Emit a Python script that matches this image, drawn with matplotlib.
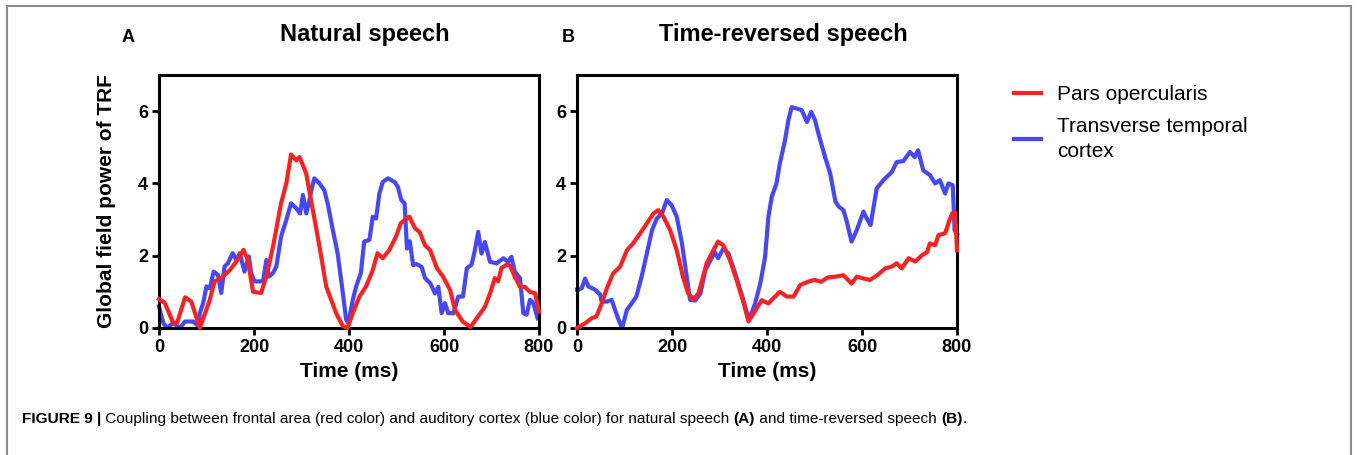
"""
Figure 9: coupling between frontal area and auditory cortex (TRF global field power).
Two panels (natural vs time-reversed speech) plus a side legend and caption.
"""

import matplotlib
matplotlib.use("Agg")
import matplotlib.pyplot as plt
from matplotlib.patches import Rectangle

plt.rcParams["font.family"] = ["Liberation Sans", "DejaVu Sans"]

# ---- data ----
# Panel A: natural speech
a_red_t = [0, 12, 30, 38, 55, 68, 86, 107, 117, 131, 149, 163, 178, 187, 198, 215, 226, 240,
           257, 268, 278, 289, 296, 310, 320, 338, 352, 373, 387, 397, 408, 422, 436, 450, 460,
           471, 485, 499, 509, 527, 539, 549, 560, 571, 585, 598, 613, 623, 640, 656, 669, 686,
           697, 707, 714, 721, 732, 739, 749, 760, 770, 781, 792, 800]
a_red_v = [0.8, 0.7, 0.14, 0.14, 0.85, 0.73, 0.0, 0.78, 1.29, 1.38, 1.6, 1.84, 2.16, 1.88, 1.0,
           0.97, 1.42, 2.25, 3.45, 4.0, 4.8, 4.64, 4.73, 4.27, 3.54, 2.25, 1.15, 0.41, 0.05, 0.0,
           0.41, 0.87, 1.15, 1.6, 2.07, 1.93, 2.16, 2.53, 2.9, 3.08, 2.76, 2.65, 2.29, 2.15, 1.66,
           1.42, 1.05, 0.5, 0.17, 0.03, 0.27, 0.58, 0.96, 1.38, 1.29, 1.66, 1.75, 1.73, 1.42, 1.14,
           1.14, 1.0, 0.96, 0.45]

a_blue_t = [0, 9, 17, 30, 44, 55, 72, 83, 86, 93, 100, 107, 115, 124, 131, 138, 145, 155, 163,
            170, 180, 189, 194, 201, 219, 226, 231, 240, 247, 257, 268, 278, 289, 297, 303, 310,
            317, 320, 327, 338, 348, 355, 366, 376, 387, 394, 399, 408, 415, 425, 432, 443, 450,
            457, 464, 471, 482, 496, 503, 510, 517, 522, 528, 535, 542, 553, 560, 571, 581, 588,
            595, 602, 609, 620, 630, 640, 648, 658, 665, 672, 679, 686, 697, 711, 725, 735, 742,
            749, 760, 767, 774, 781, 788, 797]
a_blue_v = [0.6, 0.14, 0.0, 0.14, 0.0, 0.18, 0.18, 0.05, 0.41, 0.69, 1.15, 1.1, 1.56, 1.47, 0.97,
            1.7, 1.79, 2.07, 1.88, 2.07, 1.56, 1.98, 1.52, 1.29, 1.29, 1.88, 1.42, 1.52, 1.7, 2.53,
            2.99, 3.45, 3.31, 3.17, 3.68, 3.17, 3.54, 3.77, 4.14, 4.0, 3.81, 3.45, 2.71, 2.07, 0.97,
            0.23, 0.14, 0.78, 1.15, 1.52, 2.39, 2.44, 3.08, 3.03, 3.72, 4.04, 4.14, 4.04, 3.9, 3.54,
            3.45, 2.2, 2.4, 1.74, 1.77, 1.69, 1.38, 1.24, 0.96, 1.14, 0.41, 0.69, 0.41, 0.41, 0.87,
            0.87, 1.65, 1.75, 2.15, 2.66, 2.06, 2.38, 1.83, 1.79, 1.93, 1.83, 1.97, 1.56, 1.38,
            0.41, 0.37, 0.78, 0.69, 0.27]

# Panel B: time-reversed speech
b_red_t = [0, 3, 17, 31, 41, 52, 63, 76, 91, 105, 118, 132, 147, 161, 171, 182, 196, 210, 223,
           234, 245, 256, 273, 287, 297, 308, 322, 336, 351, 361, 372, 389, 403, 413, 427, 442,
           456, 470, 486, 500, 514, 528, 544, 561, 578, 589, 603, 617, 632, 649, 663, 673, 684,
           698, 712, 727, 737, 743, 754, 761, 775, 783, 790, 796, 800]
b_red_v = [0.0, 0.02, 0.13, 0.27, 0.32, 0.68, 1.1, 1.51, 1.7, 2.15, 2.34, 2.6, 2.89, 3.17, 3.26,
           3.08, 2.71, 2.15, 1.42, 0.96, 0.8, 0.96, 1.79, 2.15, 2.39, 2.29, 1.88, 1.33, 0.68, 0.18,
           0.41, 0.77, 0.68, 0.82, 1.0, 0.87, 0.87, 1.19, 1.28, 1.33, 1.28, 1.4, 1.42, 1.46, 1.23,
           1.42, 1.37, 1.33, 1.46, 1.65, 1.7, 1.79, 1.65, 1.93, 1.84, 2.02, 2.1, 2.34, 2.29, 2.57,
           2.62, 2.94, 3.17, 3.2, 2.15]

b_blue_t = [0, 3, 10, 17, 24, 38, 49, 52, 63, 73, 80, 89, 95, 105, 115, 125, 136, 147, 158, 168,
            179, 189, 199, 210, 221, 231, 238, 249, 260, 270, 290, 297, 308, 319, 333, 348, 358,
            365, 375, 386, 396, 403, 410, 420, 427, 438, 445, 452, 463, 473, 484, 493, 501, 511,
            522, 533, 544, 551, 561, 568, 578, 589, 603, 610, 618, 631, 645, 663, 673, 687, 701,
            711, 718, 729, 743, 754, 764, 775, 782, 791, 795, 800]
b_blue_v = [1.06, 1.06, 1.1, 1.37, 1.15, 1.06, 0.92, 0.73, 0.73, 0.78, 0.5, 0.18, 0.0, 0.5, 0.68,
            0.87, 1.42, 2.06, 2.71, 3.03, 3.17, 3.54, 3.4, 3.08, 2.34, 1.42, 0.78, 0.76, 0.96, 1.6,
            2.1, 1.93, 2.2, 2.06, 1.51, 0.87, 0.41, 0.32, 0.68, 1.24, 1.97, 3.08, 3.63, 4.0, 4.55,
            5.2, 5.75, 6.11, 6.07, 6.03, 5.7, 5.98, 5.75, 5.25, 4.74, 4.28, 3.5, 3.36, 3.26, 2.94,
            2.39, 2.71, 3.22, 3.03, 2.85, 3.86, 4.09, 4.32, 4.59, 4.62, 4.87, 4.73, 4.92, 4.36,
            4.23, 4.0, 4.09, 3.72, 4.0, 3.95, 2.7, 2.6]

series_labels = ["Pars opercularis", "Transverse temporal\ncortex"]
panel_titles = ["Natural speech", "Time-reversed speech"]
panel_letters = ["A", "B"]
x_ticks = [0, 200, 400, 600, 800]
y_ticks = [0, 2, 4, 6]

RED = "#f52424"
BLUE = "#3434f0"

W, H = 1358, 455


def fx(px):
    return px / W


def fy(py):
    return 1 - py / H


def style_axes(ax):
    ax.set_xlim(0, 800)
    ax.set_ylim(0, 7)
    ax.set_xticks(x_ticks)
    ax.set_yticks(y_ticks)
    for s in ax.spines.values():
        s.set_linewidth(2.2)
    ax.tick_params(direction="out", length=5, width=2, labelsize=13, pad=3)
    for lab in ax.get_xticklabels() + ax.get_yticklabels():
        lab.set_fontweight("bold")
    ax.set_xlabel("Time (ms)", fontsize=15, fontweight="bold", labelpad=4)


fig = plt.figure(figsize=(W / 100, H / 100), dpi=100)

ax_a = fig.add_axes([fx(159), fy(328), fx(380), 253 / H])
ax_b = fig.add_axes([fx(577), fy(328), fx(380), 253 / H])

la, = ax_a.plot(a_red_t, a_red_v, color=RED, lw=3, clip_on=False, zorder=3)
lb, = ax_a.plot(a_blue_t, a_blue_v, color=BLUE, lw=3, clip_on=False, zorder=2, alpha=0.9)
ax_b.plot(b_red_t, b_red_v, color=RED, lw=3, clip_on=False, zorder=3)
ax_b.plot(b_blue_t, b_blue_v, color=BLUE, lw=3, clip_on=False, zorder=2, alpha=0.9)

for ax in (ax_a, ax_b):
    style_axes(ax)
ax_a.set_ylabel("Global field power of TRF", fontsize=15, fontweight="bold", labelpad=16)

# titles and panel letters
fig.text(fx(365), fy(34), panel_titles[0], fontsize=17, fontweight="bold", ha="center", va="center")
fig.text(fx(783), fy(34), panel_titles[1], fontsize=17, fontweight="bold", ha="center", va="center")
fig.text(fx(128), fy(38), panel_letters[0], fontsize=13, fontweight="bold", ha="center", va="center")
fig.text(fx(568), fy(38), panel_letters[1], fontsize=13, fontweight="bold", ha="center", va="center")

# legend to the right
leg = fig.legend([la, lb], series_labels, loc="upper left", bbox_to_anchor=(fx(1006), fy(77)),
                 frameon=False, fontsize=15, handlelength=1.3, handletextpad=0.75,
                 labelspacing=0.62, borderaxespad=0)
for t in leg.get_texts():
    t.set_linespacing(1.4)

# caption, drawn piece by piece so some parts can be bold
caption = [("FIGURE 9 |", "bold"),
           (" Coupling between frontal area (red color) and auditory cortex (blue color) for natural speech ", "normal"),
           ("(A)", "bold"), (" and time-reversed speech ", "normal"), ("(B)", "bold"), (".", "normal")]
renderer = fig.canvas.get_renderer()
x = 22
for txt, weight in caption:
    t = fig.text(fx(x), fy(419), txt, fontsize=11.1, fontweight=weight, ha="left", va="center")
    x += t.get_window_extent(renderer).width

# grey frame around the figure
fig.add_artist(Rectangle((fx(7), -0.1), fx(1344), 1.1 - 6 / H, transform=fig.transFigure,
                         fill=False, edgecolor="#8a8a8a", lw=1.5))

fig.savefig("out.png", dpi=100)
